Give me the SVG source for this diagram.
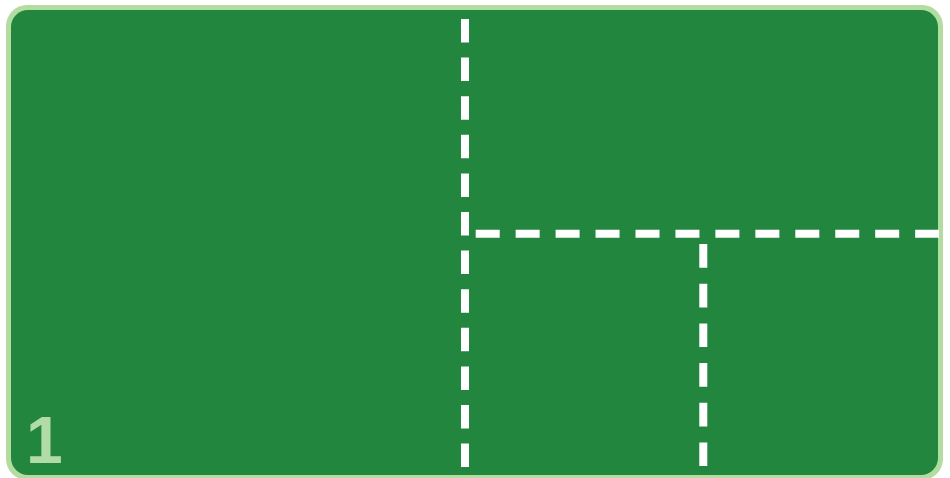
<svg xmlns="http://www.w3.org/2000/svg" width="950" height="478" viewBox="0 0 950 478">
<style>
.dash{stroke:#ffffff;stroke-width:8;fill:none}
.num{font-family:"Liberation Sans",Arial,sans-serif;font-weight:bold;font-size:66px;fill:#b2dca6}
</style>
<rect width="950" height="478" fill="#ffffff"/>
<g id="board">
<rect x="6" y="5" width="937" height="475" rx="21" fill="#b2dca0"/>
<rect x="11" y="10" width="927" height="465" rx="17" fill="#22863f"/>
</g>
<g id="connectors">
<line class="dash" x1="465" y1="19" x2="465" y2="467" stroke-dasharray="23.5 15.1"/>
<line class="dash" x1="475.7" y1="233.7" x2="939" y2="233.7" stroke-dasharray="24 15.95" stroke-width="7.5"/>
<line class="dash" x1="703.3" y1="244" x2="703.3" y2="466" stroke-dasharray="23.7 16"/>
</g>
<g id="label">
<text class="num" x="26" y="463">1</text>
</g>
</svg>
